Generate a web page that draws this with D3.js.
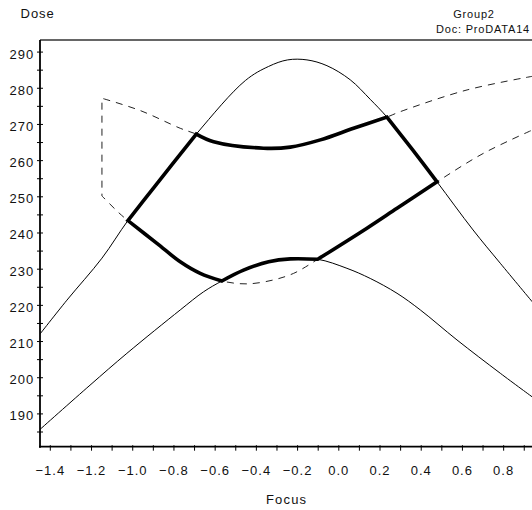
<!DOCTYPE html>
<html>
<head>
<meta charset="utf-8">
<script src="https://cdn.jsdelivr.net/npm/d3@7"></script>
<style>
  body { margin: 0; background: #fff; }
  text { font-family: "Liberation Sans", Arial, sans-serif; fill: #111; }
</style>
</head>
<body>
<div id="chart"></div>
<script>
// upper solid curve
const focusA = [-1.455, -1.317, -1.147, -1.021, -0.898, -0.689, -0.451, -0.338, -0.246, -0.152, -0.055, 0.058, 0.155, 0.236, 0.36, 0.479, 0.654, 0.786, 0.945];
const doseA = [211.4, 221.3, 232.9, 243.3, 252.2, 267.2, 282.0, 285.9, 287.7, 287.7, 286.1, 282.2, 276.8, 271.9, 262.9, 254.0, 240.7, 231.5, 220.6];
// lower solid curve
const focusB = [-1.455, -1.205, -1.026, -0.767, -0.654, -0.565, -0.460, -0.338, -0.233, -0.1, 0.042, 0.155, 0.285, 0.398, 0.576, 0.786, 0.945];
const doseB = [185.2, 197.8, 206.6, 218.6, 223.6, 226.6, 229.6, 231.9, 232.7, 232.6, 230.1, 227.3, 223.2, 218.6, 210.3, 201.1, 194.4];
// upper dashed curve
const focusC = [-1.147, -0.961, -0.767, -0.689, -0.605, -0.363, -0.233, -0.087, 0.074, 0.236, 0.301, 0.625, 0.945];
const doseC = [277.1, 273.7, 268.8, 267.2, 265.1, 263.3, 263.6, 265.6, 268.8, 271.9, 273.4, 279.4, 283.2];
// lower dashed curve
const focusD = [-1.147, -1.066, -1.021, -0.880, -0.767, -0.670, -0.565, -0.443, -0.314, -0.217, -0.144, -0.1, 0.139, 0.285, 0.479, 0.705, 0.945];
const doseD = [250.1, 245.5, 243.3, 237.0, 231.9, 228.7, 226.6, 225.8, 226.9, 228.7, 231.0, 232.6, 241.2, 246.7, 254.0, 261.9, 268.4];

const yMinorTicks = d3.range(185, 291, 5);
const yTickLabels = [190, 200, 210, 220, 230, 240, 250, 260, 270, 280, 290];
const xMinorTicks = d3.range(-14, 10).map(v => v / 10);
const xTickLabels = [-1.4, -1.2, -1.0, -0.8, -0.6, -0.4, -0.2, 0.0, 0.2, 0.4, 0.6, 0.8];

const width = 532, height = 510;
const plotL = 40, plotT = 40, plotR = 532, plotB = 446.7;

const svg = d3.select('#chart').append('svg')
    .attr('width', width)
    .attr('height', height);

const x = d3.scaleLinear().domain([-1.45, 0.94]).range([39.5, 532]);
const y = d3.scaleLinear().domain([180.8, 293.2]).range([plotB, plotT]);

const pts = (fx, dy) => fx.map((f, i) => [f, dy[i]]);
const curveA = pts(focusA, doseA);
const curveB = pts(focusB, doseB);
const curveC = pts(focusC, doseC);
const curveD = pts(focusD, doseD);

const line = d3.line()
    .x(d => x(d[0]))
    .y(d => y(d[1]))
    .curve(d3.curveCatmullRom.alpha(0.5));

// join several curve pieces into one path with sharp corners between them
function joinParts(parts) {
    return parts.map((p, i) => i === 0 ? line(p) : line(p).replace(/^M/, 'L')).join('');
}

svg.append('clipPath').attr('id', 'plot')
    .append('rect')
    .attr('x', plotL).attr('y', plotT)
    .attr('width', plotR - plotL).attr('height', plotB - plotT);

const g = svg.append('g').attr('clip-path', 'url(#plot)');

// thin solid curves
[curveA, curveB].forEach(c => {
    g.append('path')
        .attr('d', line(c))
        .attr('fill', 'none')
        .attr('stroke', '#000')
        .attr('stroke-width', 1);
});

// dashed contour: upper dashed right to left, straight down, lower dashed left to right
g.append('path')
    .attr('d', joinParts([curveC.slice().reverse(), curveD]))
    .attr('fill', 'none')
    .attr('stroke', '#222')
    .attr('stroke-width', 1)
    .attr('stroke-dasharray', '7,6');

// bold process window, pieced together from the four curves
function slice(curve, lo, hi, rev) {
    const s = curve.filter(d => d[0] >= lo - 1e-6 && d[0] <= hi + 1e-6);
    return rev ? s.reverse() : s;
}
const windowParts = [
    slice(curveA, -1.021, -0.689),
    slice(curveC, -0.689, 0.236),
    slice(curveA, 0.236, 0.479),
    slice(curveD, -0.1, 0.479, true),
    slice(curveB, -0.565, -0.1, true),
    slice(curveD, -1.021, -0.565, true)
];

g.append('path')
    .attr('d', joinParts(windowParts) + 'Z')
    .attr('fill', 'none')
    .attr('stroke', '#000')
    .attr('stroke-width', 3.6)
    .attr('stroke-linejoin', 'miter');

// axes
svg.append('line')
    .attr('x1', plotL).attr('x2', plotR).attr('y1', plotT).attr('y2', plotT)
    .attr('stroke', '#333').attr('stroke-width', 1.5);

const yAxis = svg.append('g')
    .attr('transform', `translate(${plotL},0)`)
    .call(d3.axisLeft(y).tickValues(yMinorTicks).tickSize(3).tickFormat(''));
yAxis.select('.domain').remove();
yAxis.selectAll('.tick line').attr('x1', -3).attr('x2', 3).attr('stroke', '#000');

const xAxis = svg.append('g')
    .attr('transform', `translate(0,${plotB})`)
    .call(d3.axisBottom(x).tickValues(xMinorTicks).tickSize(4).tickFormat(''));
xAxis.select('.domain').remove();
xAxis.selectAll('.tick line').attr('y1', -1.5).attr('y2', 4).attr('stroke', '#000');

svg.append('line')
    .attr('x1', plotL).attr('x2', plotL).attr('y1', plotT).attr('y2', plotB + 1)
    .attr('stroke', '#000').attr('stroke-width', 1.8);
svg.append('line')
    .attr('x1', plotL - 1).attr('x2', plotR).attr('y1', plotB).attr('y2', plotB)
    .attr('stroke', '#000').attr('stroke-width', 1.8);

// tick labels
svg.selectAll('.ylab')
    .data(yTickLabels)
    .enter()
    .append('text')
    .attr('class', 'ylab')
    .attr('x', 34.3)
    .attr('y', d => y(d) + 7)
    .attr('text-anchor', 'end')
    .attr('font-size', '13px')
    .attr('letter-spacing', '1px')
    .text(d => d);

svg.selectAll('.xlab')
    .data(xTickLabels)
    .enter()
    .append('text')
    .attr('class', 'xlab')
    .attr('x', d => x(d) + 0.5)
    .attr('y', 475)
    .attr('text-anchor', 'middle')
    .attr('font-size', '13px')
    .attr('letter-spacing', '1px')
    .text(d => d3.format('.1f')(d));

// titles
svg.append('text')
    .attr('x', 20.5).attr('y', 18.3)
    .attr('font-size', '13px')
    .attr('letter-spacing', '1px')
    .text('Dose');

svg.append('text')
    .attr('x', (plotL + plotR) / 2 + 0.6).attr('y', 504)
    .attr('text-anchor', 'middle')
    .attr('font-size', '13px')
    .attr('letter-spacing', '1.2px')
    .text('Focus');

svg.append('text')
    .attr('x', 474).attr('y', 18)
    .attr('text-anchor', 'middle')
    .attr('font-size', '11px')
    .attr('letter-spacing', '0.8px')
    .text('Group2');

svg.append('text')
    .attr('x', 530).attr('y', 33)
    .attr('text-anchor', 'end')
    .attr('font-size', '11px')
    .attr('letter-spacing', '0.8px')
    .text('Doc: ProDATA14');
</script>
</body>
</html>
